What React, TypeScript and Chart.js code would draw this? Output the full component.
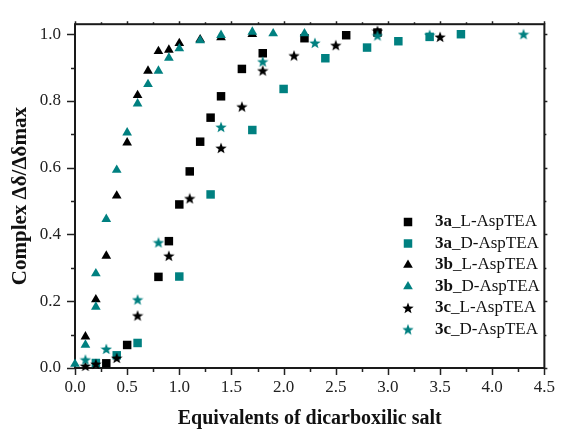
import React, { useEffect, useRef } from 'react';
import { Chart, registerables } from 'chart.js';

Chart.register(...registerables);

// ---- data ----
const aL_x = [0.3, 0.5, 0.8, 0.9, 1.0, 1.1, 1.2, 1.3, 1.4, 1.6, 1.8, 2.2, 2.6, 2.9];
const aL_y = [0.014, 0.069, 0.273, 0.38, 0.49, 0.589, 0.678, 0.75, 0.814, 0.896, 0.943, 0.988, 0.997, 1.005];

const aD_x = [0.2, 0.4, 0.6, 1.0, 1.3, 1.7, 2.0, 2.4, 2.8, 3.1, 3.4, 3.7];
const aD_y = [0.015, 0.038, 0.075, 0.274, 0.52, 0.713, 0.836, 0.928, 0.96, 0.979, 0.992, 1.0];

const bL_x = [0.1, 0.2, 0.3, 0.4, 0.5, 0.6, 0.7, 0.8, 0.9, 1.0, 1.2, 1.4, 1.7];
const bL_y = [0.094, 0.205, 0.336, 0.516, 0.675, 0.817, 0.89, 0.949, 0.953, 0.973, 0.984, 0.99, 1.0];

const bD_x = [0.0, 0.1, 0.2, 0.2, 0.3, 0.4, 0.5, 0.6, 0.7, 0.8, 0.9, 1.0, 1.2, 1.4, 1.7, 1.9, 2.2];
const bD_y = [0.012, 0.069, 0.183, 0.283, 0.446, 0.593, 0.705, 0.792, 0.85, 0.89, 0.929, 0.957, 0.981, 0.997, 1.007, 1.002, 1.002];

const cL_x = [0.1, 0.2, 0.4, 0.6, 0.9, 1.1, 1.4, 1.6, 1.8, 2.1, 2.5, 2.9, 3.5];
const cL_y = [0.006, 0.012, 0.03, 0.157, 0.336, 0.508, 0.659, 0.783, 0.891, 0.936, 0.967, 1.01, 0.992];

const cD_x = [0.1, 0.3, 0.6, 0.8, 1.4, 1.8, 2.3, 2.9, 3.4, 4.3];
const cD_y = [0.025, 0.057, 0.205, 0.376, 0.722, 0.918, 0.974, 0.996, 0.998, 1.0];

const seriesBold = ['3a', '3a', '3b', '3b', '3c', '3c'];
const seriesRest = ['_L-AspTEA', '_D-AspTEA', '_L-AspTEA', '_D-AspTEA', '_L-AspTEA', '_D-AspTEA'];

const xTickValues = [0, 0.5, 1.0, 1.5, 2.0, 2.5, 3.0, 3.5, 4.0, 4.5];
const yTickValues = [0, 0.2, 0.4, 0.6, 0.8, 1.0];

const xTitle = 'Equivalents of dicarboxilic salt';
const yTitle = 'Complex \u0394\u03b4/\u0394\u03b4max';

const BLACK = '#000000';
const TEAL = '#008080';
const FONT = '"Liberation Serif", "Times New Roman", serif';

function makeStar(color: string, size: number): HTMLCanvasElement {
  const c = document.createElement('canvas');
  c.width = size;
  c.height = size;
  const ctx = c.getContext('2d')!;
  const cx = size / 2;
  const cy = size / 2 + 0.5;
  const ro = size / 2;
  const ri = ro * 0.42;
  ctx.beginPath();
  for (let i = 0; i < 10; i++) {
    const r = i % 2 === 0 ? ro : ri;
    const a = -Math.PI / 2 + (i * Math.PI) / 5;
    const px = cx + r * Math.cos(a);
    const py = cy + r * Math.sin(a);
    if (i === 0) ctx.moveTo(px, py);
    else ctx.lineTo(px, py);
  }
  ctx.closePath();
  ctx.fillStyle = color;
  ctx.fill();
  return c;
}

function pts(xs: number[], ys: number[]) {
  return xs.map((x, i) => ({ x, y: ys[i] }));
}

export default function App() {
  const ref = useRef<HTMLCanvasElement | null>(null);

  useEffect(() => {
    if (!ref.current) return;
    const starBlack = makeStar(BLACK, 12);
    const starTeal = makeStar(TEAL, 12);

    const mk = (data: any, color: string, style: any, radius: number, order: number) => ({
      data,
      showLine: false,
      pointStyle: style,
      pointRadius: radius,
      pointHoverRadius: radius,
      pointBackgroundColor: color,
      pointBorderColor: color,
      pointBorderWidth: 0,
      backgroundColor: color,
      borderColor: color,
      clip: false as any,
      order,
    });

    const datasets = [
      mk(pts(aL_x, aL_y), BLACK, 'rect', 6, 6),
      mk(pts(aD_x, aD_y), TEAL, 'rect', 6, 5),
      mk(pts(bL_x, bL_y), BLACK, 'triangle', 5.6, 4),
      mk(pts(bD_x, bD_y), TEAL, 'triangle', 5.6, 3),
      mk(pts(cL_x, cL_y), BLACK, starBlack, 6, 2),
      mk(pts(cD_x, cD_y), TEAL, starTeal, 6, 1),
    ];

    const framePlugin = {
      id: 'frame',
      beforeDatasetsDraw(chart: any) {
        const { ctx, chartArea } = chart;
        const { left, right, top, bottom } = chartArea;
        const xs = chart.scales.x;
        const ys = chart.scales.y;
        ctx.save();
        ctx.strokeStyle = '#222';
        ctx.lineWidth = 1.5;
        for (let i = 0; i <= 18; i++) {
          const v = i * 0.25;
          const px = Math.round(xs.getPixelForValue(v)) + 0.5;
          const major = i % 2 === 0;
          ctx.beginPath();
          ctx.moveTo(px, bottom);
          ctx.lineTo(px, bottom + (major ? 7 : 4));
          ctx.moveTo(px, top);
          ctx.lineTo(px, top - (major ? 3 : 2));
          ctx.stroke();
        }
        for (let i = 0; i <= 10; i++) {
          const v = i * 0.1;
          const py = Math.round(ys.getPixelForValue(v)) + 0.5;
          const major = i % 2 === 0;
          ctx.beginPath();
          ctx.moveTo(left, py);
          ctx.lineTo(left - (major ? 8 : 4), py);
          ctx.moveTo(right, py);
          ctx.lineTo(right + (major ? 3 : 2), py);
          ctx.stroke();
        }
        ctx.lineWidth = 2;
        ctx.strokeStyle = '#1a1a1a';
        ctx.strokeRect(left, top, right - left, bottom - top);
        ctx.restore();
      },
      afterDraw(chart: any) {
        const { ctx, chartArea } = chart;
        const { left, right, top, bottom } = chartArea;
        ctx.save();
        ctx.fillStyle = '#111';
        ctx.textAlign = 'center';
        ctx.textBaseline = 'middle';
        ctx.font = `bold 20px ${FONT}`;
        ctx.fillText(xTitle, (left + right) / 2, 419);
        ctx.save();
        ctx.translate(21, (top + bottom) / 2);
        ctx.rotate(-Math.PI / 2);
        ctx.font = `bold 21px ${FONT}`;
        ctx.fillText(yTitle, 0, 0);
        ctx.restore();

        const mx = 408;
        const tx = 435;
        const y0 = 222;
        const dy = 21.5;
        chart.data.datasets.forEach((ds: any, i: number) => {
          const y = y0 + i * dy;
          const color = ds.pointBackgroundColor;
          const style = ds.pointStyle;
          ctx.fillStyle = color;
          if (style === 'rect') {
            const s = ds.pointRadius * Math.SQRT1_2;
            ctx.fillRect(mx - s, y - s, 2 * s, 2 * s);
          } else if (style === 'triangle') {
            const r = ds.pointRadius;
            ctx.beginPath();
            ctx.moveTo(mx, y - r);
            ctx.lineTo(mx + r * Math.sin((2 * Math.PI) / 3), y + r / 2);
            ctx.lineTo(mx - r * Math.sin((2 * Math.PI) / 3), y + r / 2);
            ctx.closePath();
            ctx.fill();
          } else {
            ctx.drawImage(style, mx - style.width / 2, y - style.height / 2);
          }
          ctx.fillStyle = '#111';
          ctx.textAlign = 'left';
          ctx.textBaseline = 'middle';
          ctx.font = `bold 17px ${FONT}`;
          const b = seriesBold[i];
          ctx.fillText(b, tx, y);
          const w = ctx.measureText(b).width;
          ctx.font = `17px ${FONT}`;
          ctx.fillText(seriesRest[i], tx + w, y);
        });
        ctx.restore();
      },
    };

    const chart = new Chart(ref.current, {
      type: 'scatter',
      data: { datasets: datasets as any },
      options: {
        animation: false,
        responsive: false,
        layout: { padding: { top: 14, right: 14, left: 0, bottom: 0 } },
        plugins: { legend: { display: false }, tooltip: { enabled: false } },
        scales: {
          x: {
            type: 'linear',
            position: 'bottom',
            min: 0,
            max: 4.5,
            grid: { display: false, drawTicks: false },
            border: { display: false },
            ticks: {
              color: '#222',
              font: { family: FONT, size: 17 },
              padding: 9,
              maxRotation: 0,
              autoSkip: false,
              callback: (v: any) => Number(v).toFixed(1),
            },
            afterBuildTicks: (s: any) => {
              s.ticks = xTickValues.map((v) => ({ value: v }));
            },
            afterFit: (s: any) => {
              s.height = 62;
            },
          },
          y: {
            type: 'linear',
            min: 0,
            max: 1.03,
            grid: { display: false, drawTicks: false },
            border: { display: false },
            ticks: {
              color: '#222',
              font: { family: FONT, size: 17 },
              padding: 14,
              autoSkip: false,
              callback: (v: any) => Number(v).toFixed(1),
            },
            afterBuildTicks: (s: any) => {
              s.ticks = yTickValues.map((v) => ({ value: v }));
            },
            afterFit: (s: any) => {
              s.width = 75;
            },
          },
        },
      },
      plugins: [framePlugin],
    });
    return () => chart.destroy();
  }, []);

  return (
    <div style={{ position: 'absolute', left: 0, top: 0, width: 564, height: 430, background: '#fff' }}>
      <canvas ref={ref} width={564} height={430} style={{ display: 'block' }} />
    </div>
  );
}
